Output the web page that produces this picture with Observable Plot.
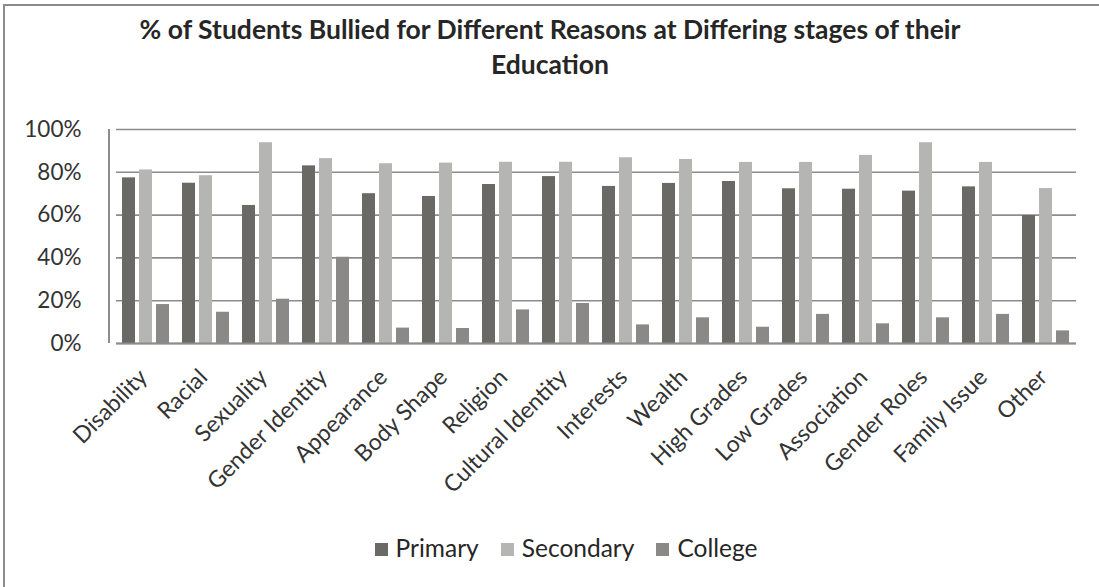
<!DOCTYPE html>
<html><head><meta charset="utf-8">
<script src="https://cdn.jsdelivr.net/npm/d3@7"></script>
<script src="https://cdn.jsdelivr.net/npm/@observablehq/plot@0.6"></script>
<style>
body{margin:0;background:#fff;font-family:Lato,"Open Sans",sans-serif;}
#wrap{position:relative;width:1099px;height:587px;overflow:hidden;background:#fff;}
#border{position:absolute;left:3px;top:4px;width:1200px;height:700px;border-left:2px solid #8c8c8c;border-top:2px solid #8c8c8c;}
#title{position:absolute;left:0;width:1100px;top:12px;text-align:center;font-weight:bold;font-size:26.5px;line-height:35px;color:#262626;}
#chart{position:absolute;left:0;top:0;}
#legend{position:absolute;top:533px;left:0;width:1132px;text-align:center;font-size:24.5px;color:#262626;}
#legend span.item{display:inline-block;margin:0 11px;}
#legend span.sw{display:inline-block;width:13px;height:13px;margin-right:8px;vertical-align:1px;}
</style></head>
<body>
<div id="wrap">
  <div id="border"></div>
  <div id="chart"></div>
  <div id="title">% of Students Bullied for Different Reasons at Differing stages of their<br>Education</div>
  <div id="legend"></div>
</div>
<script>
const categories = ["Disability","Racial","Sexuality","Gender Identity","Appearance","Body Shape","Religion","Cultural Identity","Interests","Wealth","High Grades","Low Grades","Association","Gender Roles","Family Issue","Other"];
const series = ["Primary","Secondary","College"];
const primary   = [77.4, 74.9, 64.5, 83.0, 70.0, 68.7, 74.3, 78.0, 73.4, 74.8, 75.7, 72.3, 72.1, 71.2, 73.2, 59.8];
const secondary = [81.1, 78.4, 93.8, 86.4, 84.0, 84.3, 84.7, 84.7, 86.8, 86.0, 84.6, 84.6, 87.9, 93.8, 84.6, 72.4];
const college   = [18.2, 14.6, 20.7, 40.3, 7.2, 7.0, 15.7, 18.7, 8.7, 12.0, 7.6, 13.6, 9.2, 12.0, 13.6, 5.9];
const yTicks = [0, 20, 40, 60, 80, 100];
const colors = ["#6a6965", "#b5b5b3", "#8a8987"];

const valuesBySeries = [primary, secondary, college];
const data = [];
categories.forEach((c, i) => series.forEach((s, j) => data.push({category: c, series: s, value: valuesBySeries[j][i]})));

const plot = Plot.plot({
  width: 1099,
  height: 500,
  marginTop: 129,
  marginBottom: 157,
  marginLeft: 109,
  marginRight: 16,
  style: {fontFamily: "Lato, 'Open Sans', sans-serif", fontSize: "22px", color: "#333", background: "transparent"},
  fx: {domain: categories, padding: 0, label: null},
  x: {domain: series, paddingInner: 0.22, paddingOuter: 0.3, axis: null},
  y: {domain: [0, 100], axis: null},
  color: {domain: series, range: colors},
  marks: [
    Plot.ruleY(yTicks, {stroke: "#8c8c8c", strokeWidth: 1.6}),
    Plot.barY(data, {fx: "category", x: "series", y: "value", fill: "series"}),
    Plot.ruleY([0], {stroke: "#8c8c8c", strokeWidth: 2}),
    Plot.axisFx({anchor: "bottom", tickRotate: -45, tickSize: 0, tickPadding: 30, dx: -3, label: null, fontSize: 23}),
    Plot.axisY(yTicks, {anchor: "left", tickSize: 0, tickPadding: 35, tickFormat: d => d + "%", label: null, fontSize: 22.5, facetAnchor: "left"})
  ]
});
document.getElementById("chart").appendChild(plot);

// left axis line derived from the scales
const fx = plot.scale("fx"), y = plot.scale("y");
d3.select(plot).append("line")
  .attr("x1", fx.range[0]).attr("x2", fx.range[0])
  .attr("y1", y.apply(0)).attr("y2", y.apply(100))
  .attr("stroke", "#8c8c8c").attr("stroke-width", 2);

const legend = d3.select("#legend");
series.forEach((s, i) => {
  const it = legend.append("span").attr("class", "item");
  it.append("span").attr("class", "sw").style("background", colors[i]);
  it.append("span").text(s);
});
</script>
</body></html>
